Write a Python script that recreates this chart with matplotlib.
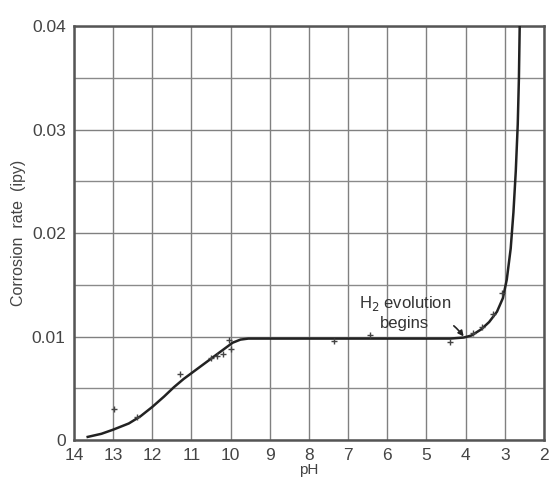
import matplotlib
matplotlib.use("Agg")
import matplotlib.pyplot as plt
import numpy as np

# smooth curve (pH, corrosion rate ipy)
curve_ph = [13.65, 13.3, 13.0, 12.6, 12.3, 12.0, 11.7, 11.45, 11.2, 10.95, 10.7,
            10.45, 10.2, 9.95, 9.75, 9.55, 9.0, 8.0, 7.0, 6.0, 5.0, 4.4, 4.05,
            3.85, 3.6, 3.4, 3.2, 3.05, 2.95, 2.85, 2.78, 2.72, 2.67, 2.64, 2.62]
curve_rate = [0.0003, 0.0006, 0.0010, 0.0016, 0.0023, 0.0032, 0.0042, 0.0051, 0.0059,
              0.0066, 0.0073, 0.0080, 0.0087, 0.0094, 0.0097, 0.0098, 0.0098, 0.0098,
              0.0098, 0.0098, 0.0098, 0.0098, 0.0099, 0.0101, 0.0107, 0.0114, 0.0124,
              0.0137, 0.0155, 0.0185, 0.0220, 0.0260, 0.0305, 0.0350, 0.0400]

# measured points
pts_ph = [12.98, 12.4, 11.3, 10.5, 10.35, 10.2, 10.04, 10.0,
          7.35, 6.45, 4.4, 3.8, 3.58, 3.3, 3.08]
pts_rate = [0.0030, 0.0022, 0.0064, 0.0079, 0.0081, 0.0083, 0.0097, 0.0088,
            0.0096, 0.0101, 0.0095, 0.0103, 0.0109, 0.0122, 0.0142]

xticks = list(range(14, 1, -1))
yticks = [0, 0.01, 0.02, 0.03, 0.04]
ytick_labels = ["0", "0.01", "0.02", "0.03", "0.04"]

plt.rcParams['font.family'] = ['Liberation Sans', 'DejaVu Sans']

fig = plt.figure(figsize=(5.53, 4.79), dpi=100)
ax = fig.add_axes([0.1338, 0.0814, 0.8499, 0.8643])

ax.set_xlim(14, 2)
ax.set_ylim(0, 0.04)

ax.set_xticks(xticks)
ax.set_xticklabels([str(t) for t in xticks], fontsize=12.5, color="#444444")
ax.set_yticks(yticks)
ax.set_yticklabels(ytick_labels, fontsize=12.5, color="#444444")
ax.set_yticks(np.arange(0, 0.0401, 0.005), minor=True)
ax.tick_params(which="both", length=0)
ax.tick_params(axis="x", pad=6)
ax.tick_params(axis="y", pad=6)

ax.grid(True, which="major", color="#808080", linewidth=1.0)
ax.grid(True, which="minor", axis="y", color="#8a8a8a", linewidth=1.0)
ax.set_axisbelow(True)
for sp in ax.spines.values():
    sp.set_color("#555555")
    sp.set_linewidth(1.8)

ax.plot(curve_ph, curve_rate, color="#222222", linewidth=1.8, zorder=3)
ax.plot(pts_ph, pts_rate, linestyle="none", marker="+", markersize=5,
        markeredgewidth=1.0, color="#444444", zorder=4)

ax.annotate("H$_2$ evolution\nbegins", xy=(4.03, 0.0099), xytext=(5.55, 0.0123),
            ha="center", va="center", fontsize=12, color="#333333",
            linespacing=1.25,
            arrowprops=dict(arrowstyle="-|>", color="#222222", lw=1.2,
                            connectionstyle="arc3,rad=-0.3",
                            shrinkA=17, shrinkB=1, mutation_scale=8))

ax.set_xlabel("pH", fontsize=11, color="#444444", labelpad=0)
ax.set_ylabel("Corrosion  rate  (ipy)", fontsize=11.5, color="#444444", labelpad=4)

fig.savefig("out.png", dpi=100)
